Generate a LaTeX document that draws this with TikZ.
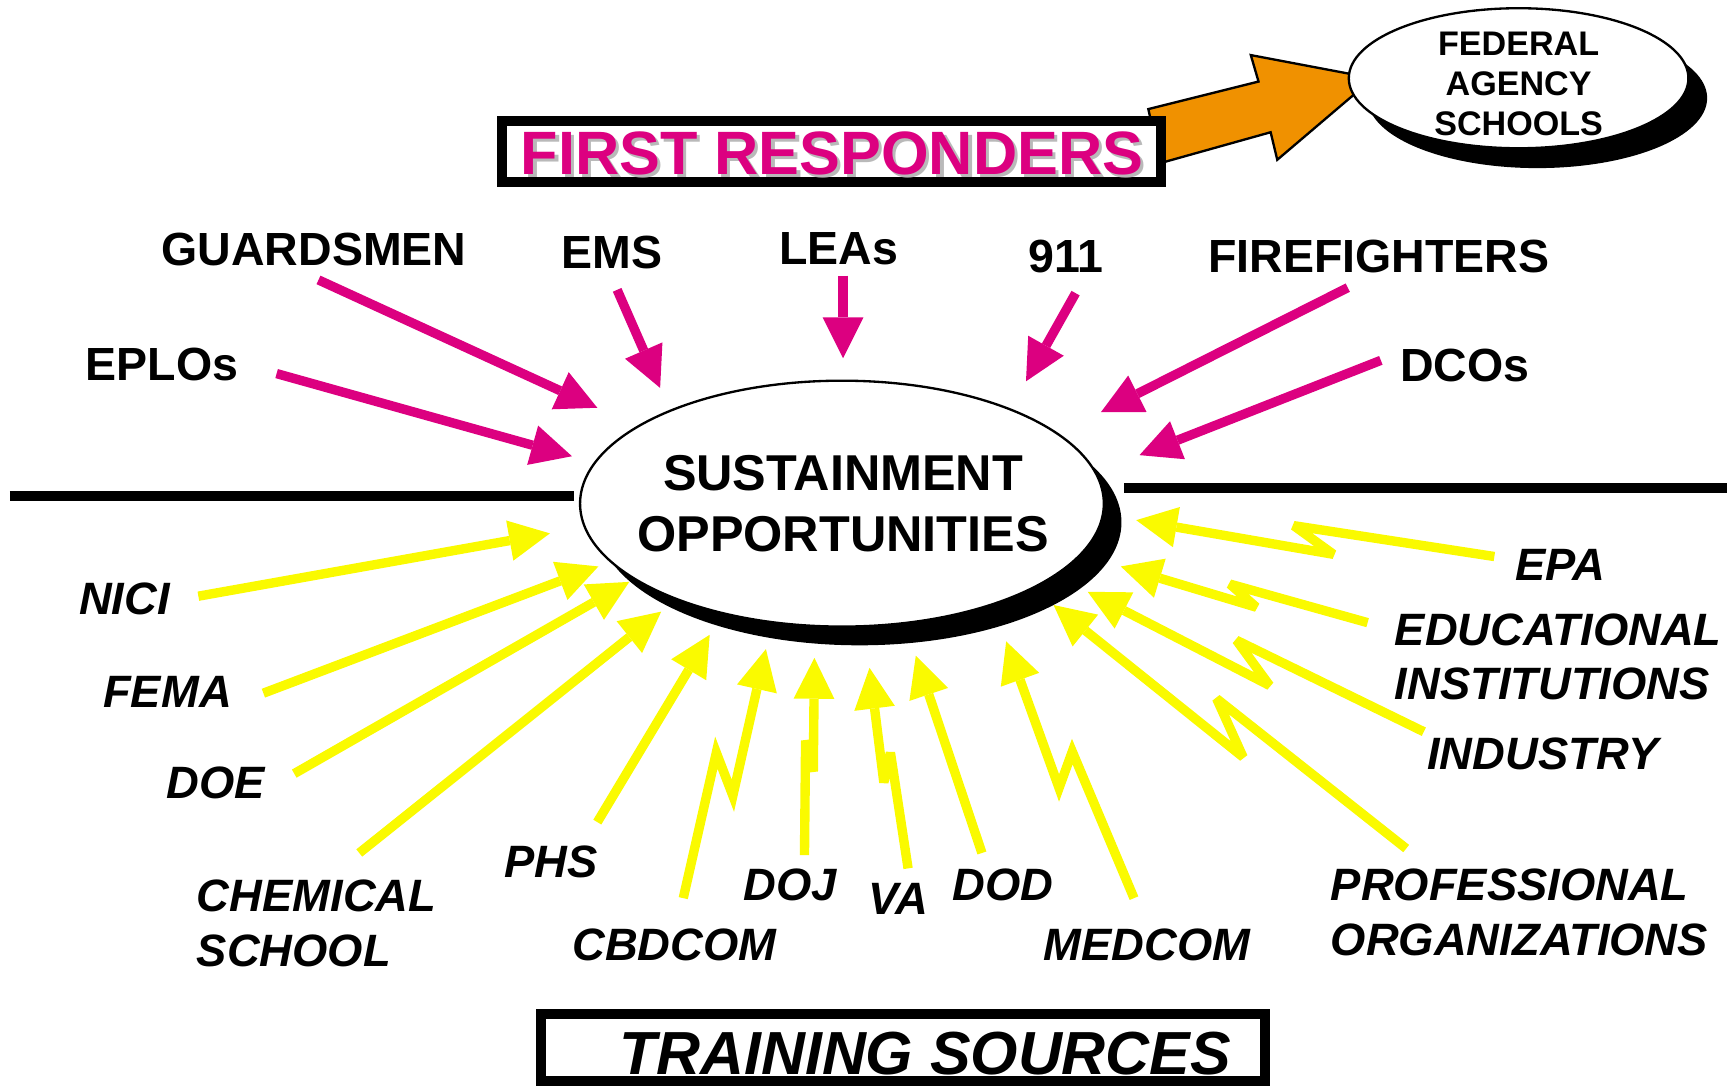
\documentclass[tikz,border=0pt]{standalone}
\usepackage{fontspec}
\setmainfont{Liberation Sans}
\usetikzlibrary{arrows.meta,shapes.geometric}

\definecolor{respmag}{RGB}{220,0,128}
\definecolor{srcyel}{RGB}{250,250,0}
\definecolor{fedorange}{RGB}{240,145,0}
\definecolor{shadegray}{RGB}{185,185,185}

\def\respfont{\fontsize{12}{14}\selectfont\bfseries}
\def\srcfont{\fontsize{11.7}{14.1}\selectfont\bfseries\itshape}
\def\tipsize{0.37cm}
\def\barwidth{0.09cm}

\begin{document}
\begin{tikzpicture}[x=0.01cm,y=-0.01cm,
  resp/.style={draw=respmag,line width=0.085cm,-{Triangle[length=\tipsize,width=\tipsize,line width=0pt]}},
  src/.style={draw=srcyel,line width=0.085cm,miter limit=4,-{Triangle[length=\tipsize,width=\tipsize,line width=0pt]}},
  resplab/.style={font=\respfont,inner sep=0pt},
  srclab/.style={font=\srcfont,inner sep=0pt,align=left},
  titlebox/.style={draw,line width=\barwidth,fill=white,inner sep=0pt}]
\useasboundingbox (0,0) rectangle (1568,985);

% dividing bars
\coordinate (barl-s) at (9,450);
\coordinate (barl-t) at (521,450);
\coordinate (barr-s) at (1020,443);
\coordinate (barr-t) at (1567,443);
\draw [line width=\barwidth] (barl-s) -- (barl-t);
\draw [line width=\barwidth] (barr-s) -- (barr-t);

% centre ellipse
\node [ellipse,fill=black,inner sep=0pt,minimum width=4.75cm,minimum height=2.23cm] (sust-shade) at (780,474) {};
\node [ellipse,draw,line width=0.6pt,fill=white,inner sep=0pt,minimum width=4.75cm,minimum height=2.23cm] (sust) at (764,457) {};
\node [font=\fontsize{13}{15.6}\selectfont\bfseries,align=center,inner sep=0pt] (sust-text) at (765,457) {SUSTAINMENT\\OPPORTUNITIES};

% federal agency schools
\draw [fill=fedorange,line width=0.6pt] (1042,99) -- (1142,74) -- (1135,50) -- (1246,71)
      -- (1159,145) -- (1153,120) -- (1053,148) -- cycle;
\node [ellipse,fill=black,inner sep=0pt,minimum width=3.08cm,minimum height=1.27cm] (fed-shade) at (1395,89) {};
\node [ellipse,draw,line width=0.6pt,fill=white,inner sep=0pt,minimum width=3.08cm,minimum height=1.27cm] (fed) at (1378,71) {};
\node [font=\fontsize{8.8}{10.4}\selectfont\bfseries,align=center,inner sep=0pt] (fed-text) at (1378,76) {FEDERAL\\AGENCY\\SCHOOLS};

% title boxes
\node [titlebox,minimum width=5.975cm,minimum height=0.555cm] (fr-box) at (754.75,137.25) {};
\node [font=\fontsize{15.8}{18}\selectfont\bfseries,text=shadegray,inner sep=0pt] (fr-shade) at (758,142) {FIRST RESPONDERS};
\node [font=\fontsize{15.8}{18}\selectfont\bfseries,text=respmag,inner sep=0pt] (fr-text) at (755,139) {FIRST RESPONDERS};
\node [titlebox,minimum width=6.56cm,minimum height=0.6cm] (ts-box) at (819.5,950.5) {};
\node [font=\fontsize{15.7}{18}\selectfont\bfseries\itshape,inner sep=0pt] (ts-text) at (839.5,956) {TRAINING SOURCES};

% first responders
\foreach \nm/\sx/\sy/\tx/\ty in {eplos/251/339/519/414,guards/289/254/542/370,ems/560/263/599/352,
    leas/765/250/765/325,nine/976/266/931/346,fire/1223/261/999/374,dcos/1253/327/1034/413}
{
    \coordinate (\nm-s) at (\sx,\sy);
    \coordinate (\nm-t) at (\tx,\ty);
    \draw [resp] (\nm-s) -- (\nm-t);
}
\node [resplab] (guards) at (285,226) {GUARDSMEN};
\node [resplab] (ems) at (555,229) {EMS};
\node [resplab] (leas) at (761,226) {LEAs};
\node [resplab] (nine) at (967,233) {911};
\node [resplab] (fire) at (1251,233) {FIREFIGHTERS};
\node [resplab] (eplos) at (147,331) {EPLOs};
\node [resplab] (dcos) at (1329,332) {DCOs};

% training sources, straight
\foreach \nm/\sx/\sy/\tx/\ty in {nici/180/541/499/484,fema/239/629/543/514,doe/267/702/571/528,
    chem/326/774/600/555,phs/542/746/644/576,dod/891/774/831/595}
{
    \coordinate (\nm-s) at (\sx,\sy);
    \coordinate (\nm-t) at (\tx,\ty);
    \draw [src] (\nm-s) -- (\nm-t);
}
% training sources, with a kink
\foreach \nm/\sx/\sy/\px/\py/\qx/\qy/\tx/\ty in {cbd/620/815/650/683/665/722/695/589,
    doj/730/776/731/672/738/700/739/597,va/824/788/808/683/802/710/789/606,
    med/1029/815/973/682/961/715/913/582,prof/1276/770/1104/634/1128/687/956/549,
    ind/1292/664/1122/581/1152/622/987/537,edu/1241/565/1116/530/1140/551/1017/514,
    epa/1356/505/1174/477/1210/503/1031/472}
{
    \coordinate (\nm-s) at (\sx,\sy);
    \coordinate (\nm-p) at (\px,\py);
    \coordinate (\nm-q) at (\qx,\qy);
    \coordinate (\nm-t) at (\tx,\ty);
    \draw [src] (\nm-s) -- (\nm-p) -- (\nm-q) -- (\nm-t);
}
\node [srclab] (nici) at (113,543) {NICI};
\node [srclab] (fema) at (152,628) {FEMA};
\node [srclab] (doe) at (196,710) {DOE};
\node [srclab,anchor=west] (chem) at (178,838) {CHEMICAL\\SCHOOL};
\node [srclab] (phs) at (500,782) {PHS};
\node [srclab] (cbd) at (612,857) {CBDCOM};
\node [srclab] (doj) at (717,803) {DOJ};
\node [srclab] (va) at (815,816) {VA};
\node [srclab] (dod) at (910,803) {DOD};
\node [srclab] (med) at (1041,857) {MEDCOM};
\node [srclab,anchor=west] (prof) at (1207,828) {PROFESSIONAL\\ORGANIZATIONS};
\node [srclab] (ind) at (1400,684) {INDUSTRY};
\node [srclab,anchor=west] (edu) at (1265,596) {EDUCATIONAL\\INSTITUTIONS};
\node [srclab] (epa) at (1416,513) {EPA};
\end{tikzpicture}
\end{document}
